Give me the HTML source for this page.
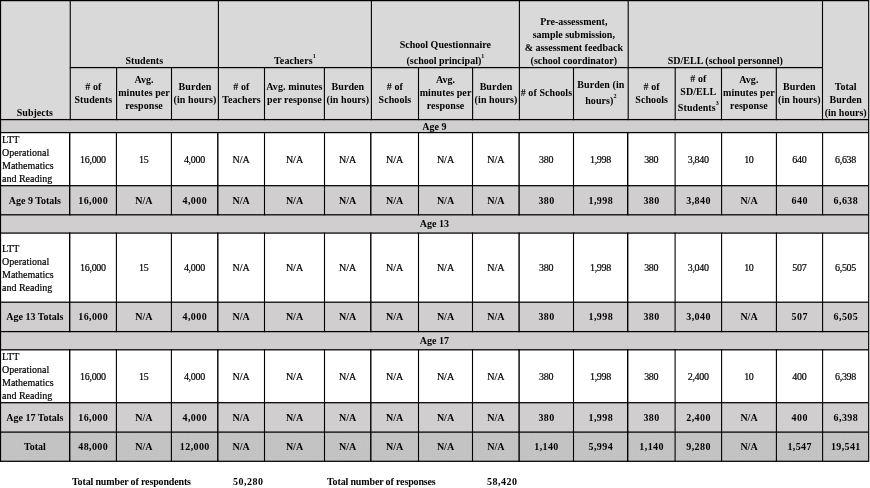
<!DOCTYPE html>
<html><head><meta charset="utf-8"><title>Burden table</title>
<style>
html,body{margin:0;padding:0;background:#fff;}
body{width:870px;height:488px;position:relative;overflow:hidden;font-family:"Liberation Serif","DejaVu Serif",serif;font-size:10px;line-height:13px;color:#000;}
.r,.l,.t,.f,#g{position:absolute;}
#g{left:0;top:0;}
.l{background:#000;}
.t{display:flex;flex-direction:column;align-items:center;text-align:center;box-sizing:border-box;white-space:nowrap;}
.t.lf{align-items:flex-start;text-align:left;}
.b{font-weight:bold;}
.b.n span{letter-spacing:0.4px;margin-right:-0.4px;}
.n span{letter-spacing:-0.3px;margin-right:0.3px;}
.h span{letter-spacing:0.08px;}
.t span.sl{display:inline-block;margin-top:3px;}
.f{font-weight:bold;white-space:nowrap;letter-spacing:-0.15px;}
.fn{letter-spacing:0.5px;}
.t:not(.b){-webkit-text-stroke:0.2px #000;}
sup{font-size:6px;line-height:0;vertical-align:6.5px;}
#w{position:absolute;left:0;top:0;width:870px;height:488px;will-change:transform;}
</style></head><body><div id="w">
<div class="r" style="left:0.00px;top:0.00px;width:868.70px;height:119.60px;background:#d9d9d9"></div>
<div class="r" style="left:0.00px;top:119.60px;width:868.70px;height:13.00px;background:#d0cece"></div>
<div class="r" style="left:0.00px;top:185.70px;width:868.70px;height:29.10px;background:#d0cece"></div>
<div class="r" style="left:0.00px;top:214.80px;width:868.70px;height:18.30px;background:#d0cece"></div>
<div class="r" style="left:0.00px;top:302.20px;width:868.70px;height:29.40px;background:#d0cece"></div>
<div class="r" style="left:0.00px;top:331.60px;width:868.70px;height:18.20px;background:#d0cece"></div>
<div class="r" style="left:0.00px;top:402.70px;width:868.70px;height:29.40px;background:#d0cece"></div>
<div class="r" style="left:0.00px;top:432.10px;width:868.70px;height:29.20px;background:radial-gradient(circle at 0.7px 0.7px,rgba(255,255,255,.16) 0.45px,transparent 0.95px) 0 0/2.9px 2.9px,radial-gradient(circle at 2.15px 2.15px,rgba(255,255,255,.16) 0.45px,transparent 0.95px) 0 0/2.9px 2.9px,#bfbfbf"></div>
<div class="t b h" style="left:70.25px;top:-0.40px;width:148.15px;height:67.00px;justify-content:flex-end"><span>Students</span></div>
<div class="t b h" style="left:218.40px;top:-0.40px;width:153.00px;height:67.00px;justify-content:flex-end"><span>Teachers<sup>1</sup></span></div>
<div class="t b" style="left:371.40px;top:-0.40px;width:148.00px;height:67.00px;justify-content:flex-end"><span>School Questionnaire<br><span class="sl">(school principal)<sup>1</sup></span></span></div>
<div class="t b" style="left:519.40px;top:-0.40px;width:108.80px;height:67.00px;justify-content:flex-end"><span>Pre-assessment,<br>sample submission,<br>&amp; assessment feedback<br>(school coordinator)</span></div>
<div class="t b" style="left:628.20px;top:-0.40px;width:194.30px;height:67.00px;justify-content:flex-end"><span>SD/ELL (school personnel)</span></div>
<div class="t b" style="left:0.00px;top:-1.00px;width:69.70px;height:119.60px;justify-content:flex-end"><span>Subjects</span></div>
<div class="t b" style="left:822.60px;top:-1.00px;width:46.10px;height:119.60px;justify-content:flex-end"><span>Total<br>Burden<br>(in hours)</span></div>
<div class="t b h" style="left:70.25px;top:66.60px;width:46.35px;height:52.00px;justify-content:center"><span># of<br>Students</span></div>
<div class="t b h" style="left:116.60px;top:66.60px;width:54.90px;height:52.00px;justify-content:center"><span>Avg.<br>minutes per<br>response</span></div>
<div class="t b h" style="left:171.50px;top:66.60px;width:46.90px;height:52.00px;justify-content:center"><span>Burden<br>(in hours)</span></div>
<div class="t b h" style="left:218.40px;top:66.60px;width:46.10px;height:52.00px;justify-content:center"><span># of<br>Teachers</span></div>
<div class="t b h" style="left:264.50px;top:66.60px;width:59.90px;height:52.00px;justify-content:center"><span>Avg. minutes<br>per response</span></div>
<div class="t b h" style="left:324.40px;top:66.60px;width:47.00px;height:52.00px;justify-content:center"><span>Burden<br>(in hours)</span></div>
<div class="t b h" style="left:371.40px;top:66.60px;width:47.10px;height:52.00px;justify-content:center"><span># of<br>Schools</span></div>
<div class="t b h" style="left:418.50px;top:66.60px;width:54.10px;height:52.00px;justify-content:center"><span>Avg.<br>minutes per<br>response</span></div>
<div class="t b h" style="left:472.60px;top:66.60px;width:46.80px;height:52.00px;justify-content:center"><span>Burden<br>(in hours)</span></div>
<div class="t b h" style="left:519.40px;top:66.60px;width:54.10px;height:52.00px;justify-content:center"><span># of Schools</span></div>
<div class="t b h" style="left:573.50px;top:66.60px;width:54.70px;height:52.00px;justify-content:center"><span>Burden (in<br><span class="sl">hours)<sup>2</sup></span></span></div>
<div class="t b h" style="left:628.20px;top:66.60px;width:47.00px;height:52.00px;justify-content:center"><span># of<br>Schools</span></div>
<div class="t b h" style="left:675.20px;top:66.60px;width:46.30px;height:52.00px;justify-content:center"><span># of<br>SD/ELL<br><span class="sl">Students<sup>3</sup></span></span></div>
<div class="t b h" style="left:721.50px;top:66.60px;width:54.80px;height:52.00px;justify-content:center"><span>Avg.<br>minutes per<br>response</span></div>
<div class="t b h" style="left:776.30px;top:66.60px;width:46.20px;height:52.00px;justify-content:center"><span>Burden<br>(in hours)</span></div>
<div class="t b" style="left:0.00px;top:119.60px;width:868.70px;height:13.00px;justify-content:center"><span>Age 9</span></div>
<div class="t b" style="left:0.00px;top:214.80px;width:868.70px;height:18.30px;justify-content:center"><span>Age 13</span></div>
<div class="t b" style="left:0.00px;top:331.60px;width:868.70px;height:18.20px;justify-content:center"><span>Age 17</span></div>
<div class="t lf" style="left:2.00px;top:132.60px;width:67.70px;height:53.10px;justify-content:center"><span>LTT<br>Operational<br>Mathematics<br>and Reading</span></div>
<div class="t n" style="left:69.70px;top:132.60px;width:46.70px;height:53.10px;justify-content:center"><span>16,000</span></div>
<div class="t n" style="left:116.40px;top:132.60px;width:55.00px;height:53.10px;justify-content:center"><span>15</span></div>
<div class="t n" style="left:171.40px;top:132.60px;width:46.40px;height:53.10px;justify-content:center"><span>4,000</span></div>
<div class="t " style="left:217.80px;top:132.60px;width:46.70px;height:53.10px;justify-content:center"><span>N/A</span></div>
<div class="t " style="left:264.50px;top:132.60px;width:60.00px;height:53.10px;justify-content:center"><span>N/A</span></div>
<div class="t " style="left:324.50px;top:132.60px;width:46.30px;height:53.10px;justify-content:center"><span>N/A</span></div>
<div class="t " style="left:370.80px;top:132.60px;width:47.70px;height:53.10px;justify-content:center"><span>N/A</span></div>
<div class="t " style="left:418.50px;top:132.60px;width:54.00px;height:53.10px;justify-content:center"><span>N/A</span></div>
<div class="t " style="left:472.50px;top:132.60px;width:46.60px;height:53.10px;justify-content:center"><span>N/A</span></div>
<div class="t n" style="left:519.10px;top:132.60px;width:54.40px;height:53.10px;justify-content:center"><span>380</span></div>
<div class="t n" style="left:573.50px;top:132.60px;width:54.20px;height:53.10px;justify-content:center"><span>1,998</span></div>
<div class="t n" style="left:627.70px;top:132.60px;width:47.40px;height:53.10px;justify-content:center"><span>380</span></div>
<div class="t n" style="left:675.10px;top:132.60px;width:46.50px;height:53.10px;justify-content:center"><span>3,840</span></div>
<div class="t n" style="left:721.60px;top:132.60px;width:54.80px;height:53.10px;justify-content:center"><span>10</span></div>
<div class="t n" style="left:776.40px;top:132.60px;width:46.20px;height:53.10px;justify-content:center"><span>640</span></div>
<div class="t n" style="left:822.60px;top:132.60px;width:46.10px;height:53.10px;justify-content:center"><span>6,638</span></div>
<div class="t b" style="left:0.00px;top:185.70px;width:69.70px;height:29.10px;justify-content:center"><span>Age 9 Totals</span></div>
<div class="t b n" style="left:69.70px;top:185.70px;width:46.70px;height:29.10px;justify-content:center"><span>16,000</span></div>
<div class="t b" style="left:116.40px;top:185.70px;width:55.00px;height:29.10px;justify-content:center"><span>N/A</span></div>
<div class="t b n" style="left:171.40px;top:185.70px;width:46.40px;height:29.10px;justify-content:center"><span>4,000</span></div>
<div class="t b" style="left:217.80px;top:185.70px;width:46.70px;height:29.10px;justify-content:center"><span>N/A</span></div>
<div class="t b" style="left:264.50px;top:185.70px;width:60.00px;height:29.10px;justify-content:center"><span>N/A</span></div>
<div class="t b" style="left:324.50px;top:185.70px;width:46.30px;height:29.10px;justify-content:center"><span>N/A</span></div>
<div class="t b" style="left:370.80px;top:185.70px;width:47.70px;height:29.10px;justify-content:center"><span>N/A</span></div>
<div class="t b" style="left:418.50px;top:185.70px;width:54.00px;height:29.10px;justify-content:center"><span>N/A</span></div>
<div class="t b" style="left:472.50px;top:185.70px;width:46.60px;height:29.10px;justify-content:center"><span>N/A</span></div>
<div class="t b n" style="left:519.10px;top:185.70px;width:54.40px;height:29.10px;justify-content:center"><span>380</span></div>
<div class="t b n" style="left:573.50px;top:185.70px;width:54.20px;height:29.10px;justify-content:center"><span>1,998</span></div>
<div class="t b n" style="left:627.70px;top:185.70px;width:47.40px;height:29.10px;justify-content:center"><span>380</span></div>
<div class="t b n" style="left:675.10px;top:185.70px;width:46.50px;height:29.10px;justify-content:center"><span>3,840</span></div>
<div class="t b" style="left:721.60px;top:185.70px;width:54.80px;height:29.10px;justify-content:center"><span>N/A</span></div>
<div class="t b n" style="left:776.40px;top:185.70px;width:46.20px;height:29.10px;justify-content:center"><span>640</span></div>
<div class="t b n" style="left:822.60px;top:185.70px;width:46.10px;height:29.10px;justify-content:center"><span>6,638</span></div>
<div class="t lf" style="left:2.00px;top:233.10px;width:67.70px;height:69.10px;justify-content:center"><span>LTT<br>Operational<br>Mathematics<br>and Reading</span></div>
<div class="t n" style="left:69.70px;top:233.10px;width:46.70px;height:69.10px;justify-content:center"><span>16,000</span></div>
<div class="t n" style="left:116.40px;top:233.10px;width:55.00px;height:69.10px;justify-content:center"><span>15</span></div>
<div class="t n" style="left:171.40px;top:233.10px;width:46.40px;height:69.10px;justify-content:center"><span>4,000</span></div>
<div class="t " style="left:217.80px;top:233.10px;width:46.70px;height:69.10px;justify-content:center"><span>N/A</span></div>
<div class="t " style="left:264.50px;top:233.10px;width:60.00px;height:69.10px;justify-content:center"><span>N/A</span></div>
<div class="t " style="left:324.50px;top:233.10px;width:46.30px;height:69.10px;justify-content:center"><span>N/A</span></div>
<div class="t " style="left:370.80px;top:233.10px;width:47.70px;height:69.10px;justify-content:center"><span>N/A</span></div>
<div class="t " style="left:418.50px;top:233.10px;width:54.00px;height:69.10px;justify-content:center"><span>N/A</span></div>
<div class="t " style="left:472.50px;top:233.10px;width:46.60px;height:69.10px;justify-content:center"><span>N/A</span></div>
<div class="t n" style="left:519.10px;top:233.10px;width:54.40px;height:69.10px;justify-content:center"><span>380</span></div>
<div class="t n" style="left:573.50px;top:233.10px;width:54.20px;height:69.10px;justify-content:center"><span>1,998</span></div>
<div class="t n" style="left:627.70px;top:233.10px;width:47.40px;height:69.10px;justify-content:center"><span>380</span></div>
<div class="t n" style="left:675.10px;top:233.10px;width:46.50px;height:69.10px;justify-content:center"><span>3,040</span></div>
<div class="t n" style="left:721.60px;top:233.10px;width:54.80px;height:69.10px;justify-content:center"><span>10</span></div>
<div class="t n" style="left:776.40px;top:233.10px;width:46.20px;height:69.10px;justify-content:center"><span>507</span></div>
<div class="t n" style="left:822.60px;top:233.10px;width:46.10px;height:69.10px;justify-content:center"><span>6,505</span></div>
<div class="t b" style="left:0.00px;top:302.20px;width:69.70px;height:29.40px;justify-content:center"><span>Age 13 Totals</span></div>
<div class="t b n" style="left:69.70px;top:302.20px;width:46.70px;height:29.40px;justify-content:center"><span>16,000</span></div>
<div class="t b" style="left:116.40px;top:302.20px;width:55.00px;height:29.40px;justify-content:center"><span>N/A</span></div>
<div class="t b n" style="left:171.40px;top:302.20px;width:46.40px;height:29.40px;justify-content:center"><span>4,000</span></div>
<div class="t b" style="left:217.80px;top:302.20px;width:46.70px;height:29.40px;justify-content:center"><span>N/A</span></div>
<div class="t b" style="left:264.50px;top:302.20px;width:60.00px;height:29.40px;justify-content:center"><span>N/A</span></div>
<div class="t b" style="left:324.50px;top:302.20px;width:46.30px;height:29.40px;justify-content:center"><span>N/A</span></div>
<div class="t b" style="left:370.80px;top:302.20px;width:47.70px;height:29.40px;justify-content:center"><span>N/A</span></div>
<div class="t b" style="left:418.50px;top:302.20px;width:54.00px;height:29.40px;justify-content:center"><span>N/A</span></div>
<div class="t b" style="left:472.50px;top:302.20px;width:46.60px;height:29.40px;justify-content:center"><span>N/A</span></div>
<div class="t b n" style="left:519.10px;top:302.20px;width:54.40px;height:29.40px;justify-content:center"><span>380</span></div>
<div class="t b n" style="left:573.50px;top:302.20px;width:54.20px;height:29.40px;justify-content:center"><span>1,998</span></div>
<div class="t b n" style="left:627.70px;top:302.20px;width:47.40px;height:29.40px;justify-content:center"><span>380</span></div>
<div class="t b n" style="left:675.10px;top:302.20px;width:46.50px;height:29.40px;justify-content:center"><span>3,040</span></div>
<div class="t b" style="left:721.60px;top:302.20px;width:54.80px;height:29.40px;justify-content:center"><span>N/A</span></div>
<div class="t b n" style="left:776.40px;top:302.20px;width:46.20px;height:29.40px;justify-content:center"><span>507</span></div>
<div class="t b n" style="left:822.60px;top:302.20px;width:46.10px;height:29.40px;justify-content:center"><span>6,505</span></div>
<div class="t lf" style="left:2.00px;top:349.80px;width:67.70px;height:52.90px;justify-content:center"><span>LTT<br>Operational<br>Mathematics<br>and Reading</span></div>
<div class="t n" style="left:69.70px;top:349.80px;width:46.70px;height:52.90px;justify-content:center"><span>16,000</span></div>
<div class="t n" style="left:116.40px;top:349.80px;width:55.00px;height:52.90px;justify-content:center"><span>15</span></div>
<div class="t n" style="left:171.40px;top:349.80px;width:46.40px;height:52.90px;justify-content:center"><span>4,000</span></div>
<div class="t " style="left:217.80px;top:349.80px;width:46.70px;height:52.90px;justify-content:center"><span>N/A</span></div>
<div class="t " style="left:264.50px;top:349.80px;width:60.00px;height:52.90px;justify-content:center"><span>N/A</span></div>
<div class="t " style="left:324.50px;top:349.80px;width:46.30px;height:52.90px;justify-content:center"><span>N/A</span></div>
<div class="t " style="left:370.80px;top:349.80px;width:47.70px;height:52.90px;justify-content:center"><span>N/A</span></div>
<div class="t " style="left:418.50px;top:349.80px;width:54.00px;height:52.90px;justify-content:center"><span>N/A</span></div>
<div class="t " style="left:472.50px;top:349.80px;width:46.60px;height:52.90px;justify-content:center"><span>N/A</span></div>
<div class="t n" style="left:519.10px;top:349.80px;width:54.40px;height:52.90px;justify-content:center"><span>380</span></div>
<div class="t n" style="left:573.50px;top:349.80px;width:54.20px;height:52.90px;justify-content:center"><span>1,998</span></div>
<div class="t n" style="left:627.70px;top:349.80px;width:47.40px;height:52.90px;justify-content:center"><span>380</span></div>
<div class="t n" style="left:675.10px;top:349.80px;width:46.50px;height:52.90px;justify-content:center"><span>2,400</span></div>
<div class="t n" style="left:721.60px;top:349.80px;width:54.80px;height:52.90px;justify-content:center"><span>10</span></div>
<div class="t n" style="left:776.40px;top:349.80px;width:46.20px;height:52.90px;justify-content:center"><span>400</span></div>
<div class="t n" style="left:822.60px;top:349.80px;width:46.10px;height:52.90px;justify-content:center"><span>6,398</span></div>
<div class="t b" style="left:0.00px;top:402.70px;width:69.70px;height:29.40px;justify-content:center"><span>Age 17 Totals</span></div>
<div class="t b n" style="left:69.70px;top:402.70px;width:46.70px;height:29.40px;justify-content:center"><span>16,000</span></div>
<div class="t b" style="left:116.40px;top:402.70px;width:55.00px;height:29.40px;justify-content:center"><span>N/A</span></div>
<div class="t b n" style="left:171.40px;top:402.70px;width:46.40px;height:29.40px;justify-content:center"><span>4,000</span></div>
<div class="t b" style="left:217.80px;top:402.70px;width:46.70px;height:29.40px;justify-content:center"><span>N/A</span></div>
<div class="t b" style="left:264.50px;top:402.70px;width:60.00px;height:29.40px;justify-content:center"><span>N/A</span></div>
<div class="t b" style="left:324.50px;top:402.70px;width:46.30px;height:29.40px;justify-content:center"><span>N/A</span></div>
<div class="t b" style="left:370.80px;top:402.70px;width:47.70px;height:29.40px;justify-content:center"><span>N/A</span></div>
<div class="t b" style="left:418.50px;top:402.70px;width:54.00px;height:29.40px;justify-content:center"><span>N/A</span></div>
<div class="t b" style="left:472.50px;top:402.70px;width:46.60px;height:29.40px;justify-content:center"><span>N/A</span></div>
<div class="t b n" style="left:519.10px;top:402.70px;width:54.40px;height:29.40px;justify-content:center"><span>380</span></div>
<div class="t b n" style="left:573.50px;top:402.70px;width:54.20px;height:29.40px;justify-content:center"><span>1,998</span></div>
<div class="t b n" style="left:627.70px;top:402.70px;width:47.40px;height:29.40px;justify-content:center"><span>380</span></div>
<div class="t b n" style="left:675.10px;top:402.70px;width:46.50px;height:29.40px;justify-content:center"><span>2,400</span></div>
<div class="t b" style="left:721.60px;top:402.70px;width:54.80px;height:29.40px;justify-content:center"><span>N/A</span></div>
<div class="t b n" style="left:776.40px;top:402.70px;width:46.20px;height:29.40px;justify-content:center"><span>400</span></div>
<div class="t b n" style="left:822.60px;top:402.70px;width:46.10px;height:29.40px;justify-content:center"><span>6,398</span></div>
<div class="t b" style="left:0.00px;top:432.10px;width:69.70px;height:29.20px;justify-content:center"><span>Total</span></div>
<div class="t b n" style="left:69.70px;top:432.10px;width:46.70px;height:29.20px;justify-content:center"><span>48,000</span></div>
<div class="t b" style="left:116.40px;top:432.10px;width:55.00px;height:29.20px;justify-content:center"><span>N/A</span></div>
<div class="t b n" style="left:171.40px;top:432.10px;width:46.40px;height:29.20px;justify-content:center"><span>12,000</span></div>
<div class="t b" style="left:217.80px;top:432.10px;width:46.70px;height:29.20px;justify-content:center"><span>N/A</span></div>
<div class="t b" style="left:264.50px;top:432.10px;width:60.00px;height:29.20px;justify-content:center"><span>N/A</span></div>
<div class="t b" style="left:324.50px;top:432.10px;width:46.30px;height:29.20px;justify-content:center"><span>N/A</span></div>
<div class="t b" style="left:370.80px;top:432.10px;width:47.70px;height:29.20px;justify-content:center"><span>N/A</span></div>
<div class="t b" style="left:418.50px;top:432.10px;width:54.00px;height:29.20px;justify-content:center"><span>N/A</span></div>
<div class="t b" style="left:472.50px;top:432.10px;width:46.60px;height:29.20px;justify-content:center"><span>N/A</span></div>
<div class="t b n" style="left:519.10px;top:432.10px;width:54.40px;height:29.20px;justify-content:center"><span>1,140</span></div>
<div class="t b n" style="left:573.50px;top:432.10px;width:54.20px;height:29.20px;justify-content:center"><span>5,994</span></div>
<div class="t b n" style="left:627.70px;top:432.10px;width:47.40px;height:29.20px;justify-content:center"><span>1,140</span></div>
<div class="t b n" style="left:675.10px;top:432.10px;width:46.50px;height:29.20px;justify-content:center"><span>9,280</span></div>
<div class="t b" style="left:721.60px;top:432.10px;width:54.80px;height:29.20px;justify-content:center"><span>N/A</span></div>
<div class="t b n" style="left:776.40px;top:432.10px;width:46.20px;height:29.20px;justify-content:center"><span>1,547</span></div>
<div class="t b n" style="left:822.60px;top:432.10px;width:46.10px;height:29.20px;justify-content:center"><span>19,541</span></div>
<div class="f" style="left:72px;top:475px">Total number of respondents</div>
<div class="f" style="left:233px;top:475px"><span class="fn">50,280</span></div>
<div class="f" style="left:327px;top:475px">Total number of responses</div>
<div class="f" style="left:487px;top:475px"><span class="fn">58,420</span></div>
<svg id="g" width="870" height="488" viewBox="0 0 870 488" fill="#000"><rect x="0.00" y="-0.03" width="868.70" height="1.25"/><rect x="0.00" y="118.97" width="868.70" height="1.25"/><rect x="0.00" y="131.97" width="868.70" height="1.25"/><rect x="0.00" y="185.07" width="868.70" height="1.25"/><rect x="0.00" y="214.18" width="868.70" height="1.25"/><rect x="0.00" y="232.47" width="868.70" height="1.25"/><rect x="0.00" y="301.57" width="868.70" height="1.25"/><rect x="0.00" y="330.98" width="868.70" height="1.25"/><rect x="0.00" y="349.18" width="868.70" height="1.25"/><rect x="0.00" y="402.07" width="868.70" height="1.25"/><rect x="0.00" y="431.48" width="868.70" height="1.25"/><rect x="0.00" y="460.68" width="868.70" height="1.25"/><rect x="69.70" y="66.97" width="752.90" height="1.25"/><rect x="0.00" y="0.00" width="1.1" height="461.90"/><rect x="868.12" y="-0.60" width="1.15" height="462.50"/><rect x="69.70" y="0.00" width="1.1" height="120.20"/><rect x="69.00" y="132.00" width="1.4" height="83.40"/><rect x="69.00" y="232.50" width="1.4" height="99.70"/><rect x="69.00" y="349.20" width="1.4" height="112.70"/><rect x="116.05" y="67.00" width="1.1" height="53.20"/><rect x="115.85" y="132.00" width="1.1" height="83.40"/><rect x="115.85" y="232.50" width="1.1" height="99.70"/><rect x="115.85" y="349.20" width="1.1" height="112.70"/><rect x="170.95" y="67.00" width="1.1" height="53.20"/><rect x="170.85" y="132.00" width="1.1" height="83.40"/><rect x="170.85" y="232.50" width="1.1" height="99.70"/><rect x="170.85" y="349.20" width="1.1" height="112.70"/><rect x="217.85" y="0.00" width="1.1" height="120.20"/><rect x="217.10" y="132.00" width="1.4" height="83.40"/><rect x="217.10" y="232.50" width="1.4" height="99.70"/><rect x="217.10" y="349.20" width="1.4" height="112.70"/><rect x="263.95" y="67.00" width="1.1" height="53.20"/><rect x="263.95" y="132.00" width="1.1" height="83.40"/><rect x="263.95" y="232.50" width="1.1" height="99.70"/><rect x="263.95" y="349.20" width="1.1" height="112.70"/><rect x="323.85" y="67.00" width="1.1" height="53.20"/><rect x="323.95" y="132.00" width="1.1" height="83.40"/><rect x="323.95" y="232.50" width="1.1" height="99.70"/><rect x="323.95" y="349.20" width="1.1" height="112.70"/><rect x="370.85" y="0.00" width="1.1" height="120.20"/><rect x="370.10" y="132.00" width="1.4" height="83.40"/><rect x="370.10" y="232.50" width="1.4" height="99.70"/><rect x="370.10" y="349.20" width="1.4" height="112.70"/><rect x="417.95" y="67.00" width="1.1" height="53.20"/><rect x="417.95" y="132.00" width="1.1" height="83.40"/><rect x="417.95" y="232.50" width="1.1" height="99.70"/><rect x="417.95" y="349.20" width="1.1" height="112.70"/><rect x="472.05" y="67.00" width="1.1" height="53.20"/><rect x="471.95" y="132.00" width="1.1" height="83.40"/><rect x="471.95" y="232.50" width="1.1" height="99.70"/><rect x="471.95" y="349.20" width="1.1" height="112.70"/><rect x="518.85" y="0.00" width="1.1" height="120.20"/><rect x="518.40" y="132.00" width="1.4" height="83.40"/><rect x="518.40" y="232.50" width="1.4" height="99.70"/><rect x="518.40" y="349.20" width="1.4" height="112.70"/><rect x="572.95" y="67.00" width="1.1" height="53.20"/><rect x="572.95" y="132.00" width="1.1" height="83.40"/><rect x="572.95" y="232.50" width="1.1" height="99.70"/><rect x="572.95" y="349.20" width="1.1" height="112.70"/><rect x="627.65" y="0.00" width="1.1" height="120.20"/><rect x="627.00" y="132.00" width="1.4" height="83.40"/><rect x="627.00" y="232.50" width="1.4" height="99.70"/><rect x="627.00" y="349.20" width="1.4" height="112.70"/><rect x="674.65" y="67.00" width="1.1" height="53.20"/><rect x="674.55" y="132.00" width="1.1" height="83.40"/><rect x="674.55" y="232.50" width="1.1" height="99.70"/><rect x="674.55" y="349.20" width="1.1" height="112.70"/><rect x="720.95" y="67.00" width="1.1" height="53.20"/><rect x="721.05" y="132.00" width="1.1" height="83.40"/><rect x="721.05" y="232.50" width="1.1" height="99.70"/><rect x="721.05" y="349.20" width="1.1" height="112.70"/><rect x="775.75" y="67.00" width="1.1" height="53.20"/><rect x="775.85" y="132.00" width="1.1" height="83.40"/><rect x="775.85" y="232.50" width="1.1" height="99.70"/><rect x="775.85" y="349.20" width="1.1" height="112.70"/><rect x="821.95" y="0.00" width="1.1" height="120.20"/><rect x="822.05" y="132.00" width="1.1" height="83.40"/><rect x="822.05" y="232.50" width="1.1" height="99.70"/><rect x="822.05" y="349.20" width="1.1" height="112.70"/></svg>
</div></body></html>
